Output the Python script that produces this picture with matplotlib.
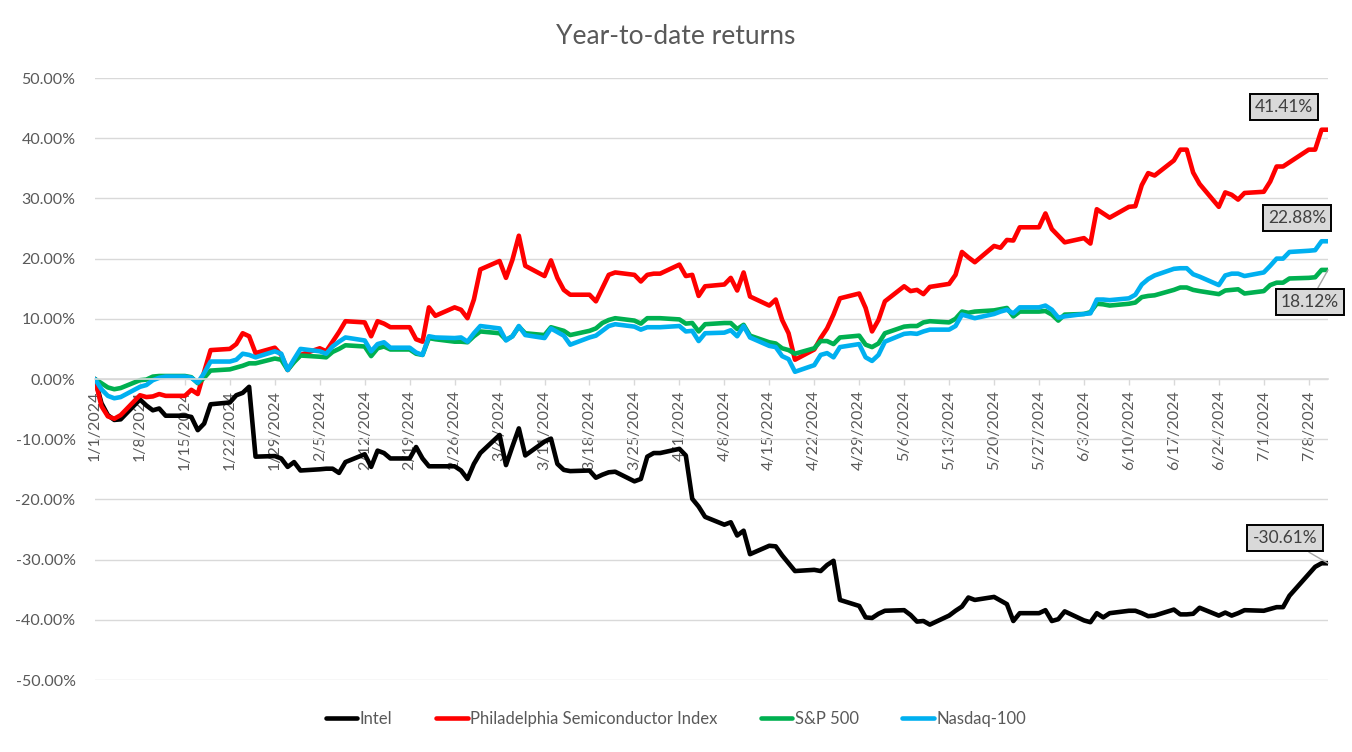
import numpy as np
import pandas as pd
import matplotlib
matplotlib.use("Agg")
import matplotlib.pyplot as plt
from matplotlib.ticker import FuncFormatter, MultipleLocator

plt.rcParams['font.family'] = ['Lato', 'DejaVu Sans']

# weekdays, holidays carry the previous close
dates = pd.bdate_range('2024-01-01', '2024-07-11')

# YTD returns in percent, one row per week
intel = [
    0.0, -4.0, -6.0, -6.8, -6.7,
    -3.4, -4.4, -5.2, -4.9, -6.1,
    -6.1, -6.3, -8.5, -7.4, -4.2,
    -3.9, -2.7, -2.3, -1.3, -12.9,
    -12.8, -13.2, -14.6, -13.8, -15.2,
    -15.0, -14.9, -14.9, -15.6, -13.8,
    -12.5, -14.6, -11.9, -12.3, -13.2,
    -13.2, -11.3, -13.2, -14.5, -14.5,
    -14.5, -15.2, -16.6, -14.1, -12.3,
    -9.3, -14.3, -11.2, -8.2, -12.7,
    -10.4, -9.9, -14.1, -15.1, -15.3,
    -15.2, -16.4, -15.9, -15.5, -15.4,
    -17.0, -16.6, -12.9, -12.3, -12.3,
    -11.6, -12.7, -19.9, -21.2, -22.9,
    -24.2, -23.8, -26.0, -25.2, -29.1,
    -27.7, -27.8, -29.3, -30.6, -31.9,
    -31.7, -31.9, -30.9, -30.2, -36.7,
    -37.7, -39.6, -39.7, -39.0, -38.5,
    -38.4, -39.2, -40.3, -40.2, -40.8,
    -39.3, -38.5, -37.8, -36.3, -36.7,
    -36.2, -36.8, -37.4, -40.2, -38.9,
    -38.9, -38.4, -40.2, -39.9, -38.6,
    -40.1, -40.4, -38.9, -39.6, -38.9,
    -38.5, -38.5, -38.9, -39.4, -39.3,
    -38.3, -39.1, -39.1, -39.0, -38.0,
    -39.3, -38.8, -39.3, -38.9, -38.4,
    -38.5, -38.2, -37.9, -37.9, -36.0,
    -32.4, -31.2, -30.61, -30.61,
]
sox = [
    0.0, -4.5, -6.2, -6.6, -6.0,
    -2.7, -3.0, -2.9, -2.5, -2.8,
    -2.8, -1.8, -2.5, 1.2, 4.8,
    5.0, 5.8, 7.6, 7.1, 4.3,
    5.2, 4.0, 1.5, 3.0, 4.0,
    5.1, 4.6, 6.2, 7.8, 9.6,
    9.4, 7.1, 9.6, 9.2, 8.6,
    8.6, 6.6, 6.2, 11.9, 10.5,
    11.9, 11.5, 10.1, 13.2, 18.2,
    19.6, 16.8, 19.8, 23.8, 18.8,
    17.1, 19.7, 16.8, 14.8, 14.0,
    14.0, 12.9, 15.1, 17.3, 17.7,
    17.3, 16.2, 17.3, 17.5, 17.5,
    19.0, 17.1, 17.3, 13.8, 15.4,
    15.7, 16.8, 14.7, 17.7, 13.7,
    12.2, 13.2, 9.8, 7.6, 3.2,
    4.9, 6.8, 8.4, 10.7, 13.4,
    14.2, 11.8, 7.9, 9.8, 12.9,
    15.4, 14.6, 14.8, 14.1, 15.3,
    15.8, 17.3, 21.1, 20.2, 19.4,
    22.1, 21.8, 23.1, 23.0, 25.2,
    25.2, 27.5, 24.9, 23.8, 22.7,
    23.4, 22.5, 28.2, 27.5, 26.8,
    28.6, 28.7, 32.2, 34.2, 33.8,
    36.3, 38.1, 38.1, 34.3, 32.4,
    28.6, 31.0, 30.6, 29.8, 30.9,
    31.1, 32.8, 35.3, 35.3, 36.0,
    38.1, 38.1, 41.41, 41.41,
]
spx = [
    0.0, -0.7, -1.4, -1.7, -1.5,
    -0.2, -0.1, 0.4, 0.5, 0.5,
    0.5, 0.3, -0.7, 0.2, 1.4,
    1.6, 1.9, 2.2, 2.6, 2.6,
    3.4, 3.2, 1.5, 2.8, 3.9,
    3.7, 3.6, 4.5, 5.0, 5.6,
    5.4, 3.8, 5.1, 5.4, 4.9,
    4.9, 4.2, 4.0, 6.8, 6.6,
    6.2, 6.2, 6.1, 7.1, 7.9,
    7.6, 6.5, 7.1, 8.7, 7.6,
    7.3, 8.6, 8.3, 8.0, 7.3,
    8.0, 8.4, 9.3, 9.8, 10.1,
    9.7, 9.2, 10.1, 10.1, 10.1,
    9.9, 9.2, 9.3, 7.9, 9.1,
    9.3, 9.3, 8.3, 9.0, 7.2,
    6.1, 5.9, 5.1, 4.8, 4.2,
    5.1, 6.3, 6.3, 5.8, 6.9,
    7.2, 5.7, 5.3, 5.9, 7.6,
    8.7, 8.8, 8.8, 9.4, 9.6,
    9.4, 10.0, 11.2, 11.0, 11.2,
    11.4, 11.6, 11.8, 10.4, 11.2,
    11.2, 11.3, 10.7, 9.7, 10.7,
    10.8, 11.1, 12.5, 12.4, 12.2,
    12.5, 12.7, 13.6, 13.8, 13.9,
    14.8, 15.2, 15.2, 14.8, 14.6,
    14.1, 14.7, 14.8, 14.9, 14.2,
    14.6, 15.6, 16.0, 16.0, 16.7,
    16.8, 16.9, 18.12, 18.12,
]
ndx = [
    0.0, -1.7, -2.8, -3.2, -3.0,
    -1.3, -1.0, -0.2, 0.2, 0.4,
    0.4, 0.2, -0.6, 1.0, 2.9,
    2.9, 3.2, 4.2, 4.0, 3.6,
    4.6, 4.2, 1.5, 3.3, 5.0,
    4.6, 4.2, 5.4, 6.2, 6.9,
    6.4, 4.6, 5.8, 6.1, 5.2,
    5.2, 4.4, 4.0, 7.1, 6.9,
    6.8, 6.9, 6.2, 7.6, 8.8,
    8.4, 6.4, 7.1, 8.8, 7.3,
    6.8, 8.4, 7.8, 7.2, 5.7,
    6.9, 7.2, 8.0, 8.8, 9.1,
    8.7, 8.2, 8.6, 8.6, 8.6,
    8.8, 7.9, 8.0, 6.3, 7.6,
    7.7, 8.1, 7.1, 8.8, 6.9,
    5.5, 5.3, 3.8, 3.3, 1.2,
    2.3, 4.0, 4.3, 3.6, 5.3,
    5.8, 3.6, 3.0, 4.0, 6.2,
    7.5, 7.6, 7.5, 7.9, 8.2,
    8.2, 8.8, 10.7, 10.4, 10.1,
    10.8, 11.2, 11.5, 10.9, 11.9,
    11.9, 12.2, 11.5, 10.2, 10.4,
    10.8, 10.9, 13.2, 13.2, 13.1,
    13.4, 14.0, 15.7, 16.6, 17.2,
    18.3, 18.4, 18.4, 17.4, 17.0,
    15.6, 17.2, 17.5, 17.5, 17.1,
    17.7, 18.8, 20.0, 20.0, 21.1,
    21.3, 21.4, 22.88, 22.88,
]

names = ["Intel", "Philadelphia Semiconductor Index", "S&P 500", "Nasdaq-100"]
values = [intel, sox, spx, ndx]
colors = ["#000000", "#FF0000", "#00B050", "#00B0F0"]
# where the end-of-line label box sits, in pixels from the last point
label_offsets = [(-43, 25), (-44, 23), (-18, -32), (-31, 23)]
leaders = [True, False, True, False]

grey = "#595959"

fig = plt.figure(figsize=(13.52, 7.52), dpi=100)
ax = fig.add_axes([95 / 1352, 1 - 680 / 752, 1233 / 1352, 602 / 752])

for name, vals, col in zip(names, values, colors):
    ax.plot(dates, np.array(vals) / 100, color=col, lw=3.3, label=name,
            solid_joinstyle='round', solid_capstyle='round')

for vals, off, lead in zip(values, label_offsets, leaders):
    v = vals[-1]
    ax.annotate(f"{v:.2f}%", xy=(dates[-1], v / 100), xytext=off,
                textcoords='offset pixels', ha='center', va='center',
                fontsize=12.5, color='#404040', annotation_clip=False,
                bbox=dict(boxstyle='square,pad=0.3', fc='#D9D9D9', ec='black', lw=1.4),
                arrowprops=dict(arrowstyle='-', color='#A6A6A6', lw=1,
                                shrinkA=0, shrinkB=0) if lead else None)

ax.set_xlim(pd.Timestamp('2024-01-01'), pd.Timestamp('2024-07-11'))
ax.set_ylim(-0.5, 0.5)
ax.yaxis.set_major_locator(MultipleLocator(0.1))
ax.yaxis.set_major_formatter(FuncFormatter(lambda v, p: f"{round(v * 100, 6) + 0:.2f}%"))

ticks = pd.date_range('2024-01-01', '2024-07-08', freq='7D')
ax.set_xticks(ticks)
ax.set_xticklabels([f"{d.month}/{d.day}/{d.year}" for d in ticks])

for s in ['top', 'right', 'left']:
    ax.spines[s].set_visible(False)
ax.spines['bottom'].set_position(('data', 0))
ax.spines['bottom'].set_color('#D9D9D9')
ax.spines['bottom'].set_linewidth(1.2)

ax.tick_params(axis='x', direction='out', length=4, width=1, color='#D9D9D9',
               labelcolor=grey, labelsize=11.5, pad=4, labelrotation=90)
ax.tick_params(axis='y', length=0, labelcolor=grey, labelsize=11.5, pad=14)
for lab in ax.get_xticklabels():
    lab.set_verticalalignment('top')
    lab.set_horizontalalignment('center')
ax.yaxis.grid(True, color='#D9D9D9', lw=1)
ax.set_axisbelow(True)

fig.text(0.5, 1 - 37 / 752, "Year-to-date returns", ha='center', va='center',
         fontsize=19, color=grey)

fig.legend(loc='center', bbox_to_anchor=(0.5, 1 - 719 / 752), ncol=4, frameon=False,
           handlelength=1.9, handletextpad=0.15, columnspacing=2.6, fontsize=12,
           labelcolor=grey)

fig.savefig("out.png", dpi=100)
